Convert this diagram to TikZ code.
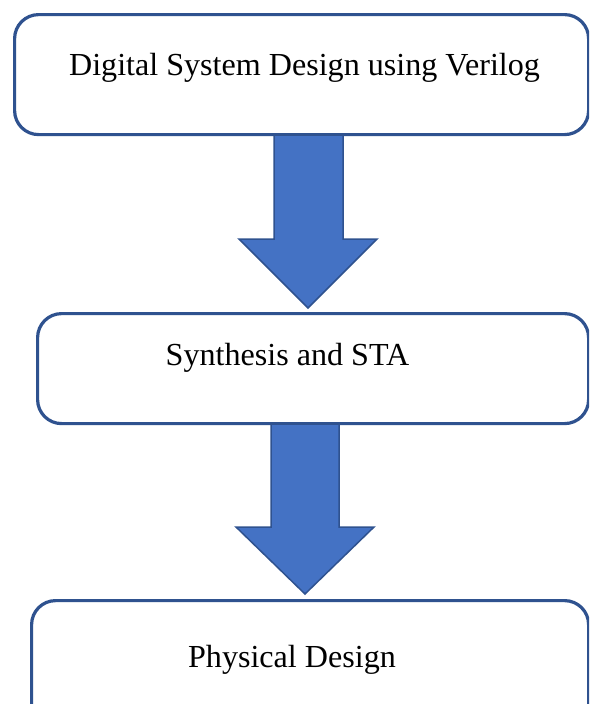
\documentclass[tikz,border=0pt]{standalone}
\usepackage{fontspec}
\setmainfont{Liberation Serif}
\definecolor{boxline}{HTML}{2F528F}
\definecolor{arrowfill}{HTML}{4472C4}
\begin{document}
\begin{tikzpicture}[x=1pt,y=-1pt,
  stepbox/.style={draw=boxline,line width=3.2pt,rounded corners=24pt,fill=white},
  label/.style={anchor=base,inner sep=0pt,font=\fontsize{32.1}{38}\selectfont},
  blockarrow/.style={fill=arrowfill,draw=boxline,line width=1.5pt,line join=miter}]
\useasboundingbox (0,0) rectangle (589,704);
\clip (0,0) rectangle (589,704);
\fill[white] (0,0) rectangle (589,704);
% boxes
\node[stepbox,minimum width=574pt,minimum height=120pt,anchor=north west] (b1) at (13,13) {};
\node[stepbox,minimum width=551pt,minimum height=110pt,anchor=north west] (b2) at (36,312) {};
\node[stepbox,minimum width=557pt,minimum height=160pt,anchor=north west] (b3) at (30,599) {};
% texts
\node[label] (t1) at (304.5,75) {Digital System Design using Verilog};
\node[label] (t2) at (287.5,365) {Synthesis and STA};
\node[label] (t3) at (292,667) {Physical Design};
% arrows
\coordinate (a1t) at (308,308);
\draw[blockarrow] (274,135) -- (343,135) -- (343,239) -- (377,239) -- (a1t) -- (239,239) -- (274,239) -- cycle;
\coordinate (a2t) at (305,594);
\draw[blockarrow] (271,424) -- (339,424) -- (339,527) -- (374,527) -- (a2t) -- (236,527) -- (271,527) -- cycle;
\end{tikzpicture}
\end{document}
